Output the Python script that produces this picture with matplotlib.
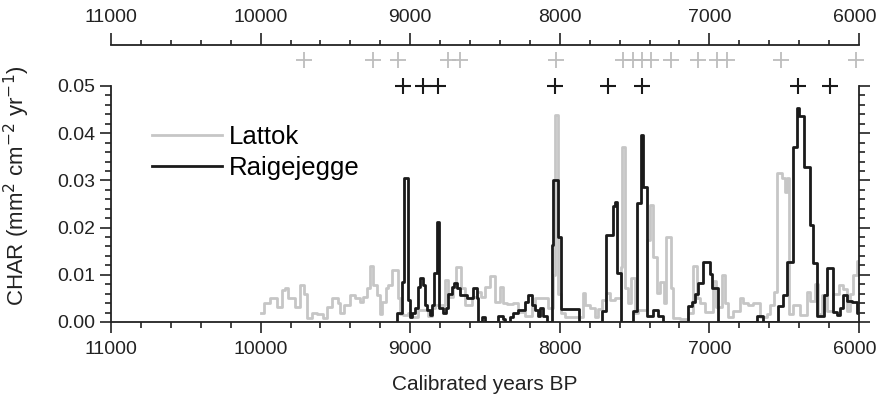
import matplotlib.pyplot as plt
from matplotlib.ticker import MultipleLocator, FormatStrFormatter
from matplotlib.transforms import ScaledTranslation

plt.rcParams['font.family'] = ['Liberation Sans', 'DejaVu Sans']

# Raigejegge: step edges (cal yr BP) and CHAR value for each interval
raig_edges = [9090, 9085, 9055, 9042, 9015, 9001, 8988, 8968, 8948, 8934, 8914, 8901,
              8888, 8868, 8854, 8841, 8821, 8808, 8781, 8761, 8747, 8721, 8707, 8687,
              8667, 8620, 8580, 8554, 8547, 8520, 8500, 8413, 8380, 8367, 8333, 8313,
              8280, 8233, 8213, 8186, 8166, 8146, 8133, 8112, 8086, 8052, 8045, 8012,
              7992, 7872, 7718, 7691, 7645, 7631, 7618, 7591, 7511, 7484, 7457, 7444,
              7417, 7377, 7344, 7310, 7143, 7117, 7097, 7076, 7043, 6996, 6983, 6943,
              6682, 6642, 6542, 6508, 6482, 6442, 6415, 6401, 6368, 6328, 6308, 6281,
              6234, 6214, 6174, 6147, 6127, 6107, 6081, 6047, 6014, 6000]
raig_vals = [0, 0.002, 0.0085, 0.0305, 0.0047, 0.001, 0.002, 0.003, 0.0074, 0.0093, 0.0078,
             0.0036, 0.0025, 0.0015, 0.0036, 0.0104, 0.0212, 0.003, 0.002, 0.003, 0.006,
             0.0074, 0.0082, 0.0071, 0.0057, 0.005, 0.0071, 0.005, 0, 0.001, 0, 0.0012,
             0.0007, 0, 0.001, 0.002, 0.0026, 0.0042, 0.0057, 0.0036, 0.0025, 0.0012,
             0.003, 0.0012, 0, 0.0163, 0.030, 0.018, 0.0027, 0, 0.0024, 0.0184, 0.0246,
             0.0255, 0.0104, 0, 0.0024, 0.0252, 0.0396, 0.0286, 0.0013, 0.0025, 0.0013,
             0, 0.0034, 0.0043, 0.006, 0.0083, 0.0127, 0.0102, 0.0072, 0, 0.0013, 0,
             0.0034, 0.0057, 0.0127, 0.037, 0.0453, 0.0436, 0.0328, 0.0205, 0.0125,
             0.0013, 0.0057, 0.0114, 0.0021, 0.0015, 0.003, 0.0057, 0.0044, 0.0042, 0.0019]

# Lattok
latt_edges = [10000, 9977, 9937, 9890, 9857, 9837, 9817, 9770, 9737, 9710, 9690, 9657,
              9623, 9583, 9556, 9523, 9483, 9469, 9443, 9403, 9369, 9336, 9316, 9289,
              9269, 9249, 9222, 9202, 9189, 9162, 9149, 9122, 9082, 9068, 9048, 9015,
              9001, 8948, 8881, 8854, 8834, 8768, 8747, 8714, 8694, 8661, 8634, 8587,
              8554, 8527, 8500, 8467, 8433, 8400, 8380, 8353, 8313, 8280, 8233, 8186,
              8166, 8112, 8079, 8045, 8030, 8010, 7992, 7965, 7932, 7845, 7832, 7798,
              7765, 7745, 7718, 7691, 7665, 7631, 7591, 7584, 7564, 7544, 7524, 7498,
              7478, 7417, 7397, 7377, 7350, 7330, 7304, 7290, 7257, 7244, 7197, 7143,
              7110, 7083, 7063, 7030, 6976, 6956, 6916, 6896, 6876, 6843, 6796, 6776,
              6742, 6709, 6662, 6615, 6595, 6569, 6548, 6515, 6495, 6482, 6468, 6442,
              6395, 6348, 6328, 6294, 6274, 6248, 6214, 6174, 6134, 6107, 6081, 6060,
              6040, 6014, 6000]
latt_vals = [0.0019, 0.004, 0.005, 0.0032, 0.0068, 0.0072, 0.005, 0.0032, 0.0078, 0.006,
             0.0008, 0.0019, 0.0017, 0.0008, 0.0032, 0.005, 0.004, 0.0019, 0.0036, 0.0057,
             0.005, 0.0042, 0.0052, 0.0072, 0.0119, 0.0078, 0.0057, 0.0017, 0.0042, 0.0071,
             0.0078, 0.011, 0.005, 0.0018, 0.0015, 0.002, 0.001, 0.0025, 0.0012, 0.003,
             0.0035, 0.0089, 0.0053, 0.0075, 0.0117, 0.0072, 0.0036, 0.0053, 0.0064, 0.0053,
             0.0075, 0.0098, 0.0042, 0.0075, 0.004, 0.0038, 0.004, 0.0021, 0.0012, 0.0032,
             0.005, 0.005, 0.003, 0.010, 0.0439, 0.006, 0.0019, 0.001, 0.0011, 0.0062,
             0.0036, 0.003, 0.0011, 0.0028, 0.0047, 0.0062, 0.0047, 0.005, 0.0117, 0.0371,
             0.0072, 0.004, 0.0093, 0.0019, 0.0025, 0.0174, 0.0248, 0.0138, 0.0062, 0.0085,
             0.004, 0.018, 0.0072, 0.0008, 0.0006, 0.0019, 0.0119, 0.005, 0.004, 0.0021,
             0.0087, 0.0032, 0.0099, 0.004, 0.001, 0.0023, 0.005, 0.004, 0.0035, 0.004,
             0.001, 0.0017, 0.0036, 0.0063, 0.0316, 0.0305, 0.0276, 0.0305, 0.0017, 0.0036,
             0.0014, 0.0063, 0.0045, 0.0081, 0.0017, 0.0057, 0.0023, 0.0059, 0.0078, 0.007,
             0.0023, 0.0059, 0.0099, 0.0129]

# radiocarbon dates
latt_dates = [9710, 9249, 9082, 8747, 8667, 8025, 7578, 7511, 7451, 7390, 7257, 7076,
              6949, 6882, 6521, 6020]
raig_dates = [9048, 8914, 8814, 8032, 7678, 7451, 6408, 6194]

gray = '#c6c6c6'
dark = '#1a1a1a'
fs = 14

fig = plt.figure(figsize=(8.79, 4.01), dpi=100)
ax = fig.add_axes([111 / 879, 1 - 322 / 401, 748 / 879, 236 / 401])

ax.step(latt_edges, latt_vals + [latt_vals[-1]], where='post', color=gray, lw=2.0,
        label='Lattok')
ax.step(raig_edges, raig_vals + [raig_vals[-1]], where='post', color=dark, lw=2.0,
        label='Raigejegge')

ax.plot(latt_dates, [0.0555] * len(latt_dates), '+', color='#bdbdbd', ms=11, mew=1.3,
        clip_on=False)
ax.plot(raig_dates, [0.05] * len(raig_dates), '+', color=dark, ms=11, mew=1.5,
        clip_on=False)

ax.set_xlim(11000, 6000)
ax.set_ylim(0, 0.05)
ax.xaxis.set_major_locator(MultipleLocator(1000))
ax.xaxis.set_minor_locator(MultipleLocator(200))
ax.yaxis.set_major_locator(MultipleLocator(0.01))
ax.yaxis.set_minor_locator(MultipleLocator(0.002))
ax.yaxis.set_major_formatter(FormatStrFormatter('%.2f'))
ax.spines['top'].set_visible(False)
for s in ['left', 'right', 'bottom']:
    ax.spines[s].set_linewidth(1.3)
    ax.spines[s].set_color('#222222')
ax.tick_params(which='both', direction='out', right=True, width=1.2, color='#222222',
               labelsize=fs, labelcolor='#222222')
ax.tick_params(which='major', length=8)
ax.tick_params(which='minor', length=4.5)
ax.tick_params(axis='x', pad=6)
ax.set_xlabel('Calibrated years BP', fontsize=15, labelpad=12, color='#222222')
ax.set_ylabel('CHAR (mm$^2$ cm$^{-2}$ yr$^{-1}$)', fontsize=16, color='#222222')
ax.yaxis.set_label_coords(-0.106, 0.576)

ax.legend(loc='upper left', bbox_to_anchor=(0.041, 0.88), frameon=False, fontsize=18.5,
          handlelength=2.72, handletextpad=0.28, labelspacing=0.3, borderaxespad=0)

# separate top age axis
axt = fig.add_axes([111 / 879, 1 - 45 / 401, 748 / 879, 0.0001])
axt.set_xlim(11000, 6000)
axt.set_yticks([])
for s in ['left', 'right', 'bottom']:
    axt.spines[s].set_visible(False)
axt.spines['top'].set_linewidth(1.3)
axt.spines['top'].set_color('#222222')
axt.xaxis.set_ticks_position('top')
axt.xaxis.set_major_locator(MultipleLocator(1000))
axt.xaxis.set_minor_locator(MultipleLocator(200))
axt.tick_params(which='both', direction='out', width=1.2, color='#222222', labelsize=fs,
                labelcolor='#222222')
axt.tick_params(which='major', length=8.5, pad=5)
axt.tick_params(which='minor', length=3.5)
axt.patch.set_visible(False)

# nudge the "6000" labels a few pixels so they stay inside the figure
fig.canvas.draw()
shift = ScaledTranslation(-3 / 72, 0, fig.dpi_scale_trans)
for a in (ax, axt):
    for tick in a.xaxis.get_major_ticks():
        if tick.get_loc() == 6000:
            for lab in (tick.label1, tick.label2):
                lab.set_transform(lab.get_transform() + shift)

fig.savefig('out.png', dpi=100)
